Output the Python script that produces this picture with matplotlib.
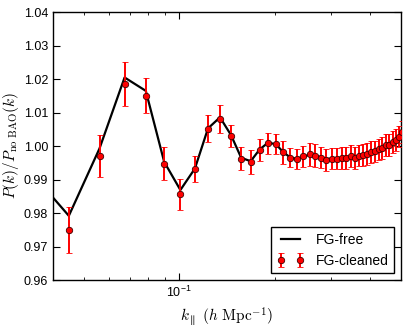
import matplotlib
matplotlib.use("Agg")
import matplotlib.pyplot as plt

plt.rcParams['font.family'] = ['Liberation Sans', 'DejaVu Sans']
plt.rcParams['mathtext.fontset'] = 'cm'

k = [0.0337, 0.0449, 0.0561, 0.0673, 0.0785, 0.0897, 0.1009, 0.1121, 0.1233,
     0.1345, 0.1457, 0.1569, 0.1681, 0.1793, 0.1905, 0.2017, 0.2129, 0.2241,
     0.2353, 0.2465, 0.2577, 0.2689, 0.2801, 0.2913, 0.3025, 0.3137, 0.3249,
     0.3361, 0.3473, 0.3585, 0.3697, 0.3809, 0.3921, 0.4033, 0.4145, 0.4257,
     0.4369, 0.4481, 0.4593, 0.4705, 0.4817, 0.4929, 0.5041]

fg_free = [0.9928, 0.9792, 0.9993, 1.0205, 1.0165, 0.9953, 0.9869, 0.9933, 1.0053,
           1.0086, 1.0033, 0.9965, 0.9955, 0.9990, 1.0010, 1.0006, 0.9982, 0.9966,
           0.9962, 0.9969, 0.9974, 0.9972, 0.9967, 0.9961, 0.9963, 0.9964, 0.9965,
           0.9965, 0.9969, 0.9967, 0.9971, 0.9974, 0.9977, 0.9982, 0.9984, 0.9990,
           0.9995, 1.0002, 1.0005, 1.0012, 1.0018, 1.0028, 1.0042]

fg_cleaned = [0.9930, 0.9750, 0.9971, 1.0186, 1.0150, 0.9948, 0.9856, 0.9931, 1.0052,
              1.0081, 1.0031, 0.9963, 0.9952, 0.9988, 1.0008, 1.0005, 0.9981, 0.9966,
              0.9961, 0.9970, 0.9975, 0.9972, 0.9966, 0.9958, 0.9963, 0.9963, 0.9965,
              0.9964, 0.9971, 0.9965, 0.9972, 0.9974, 0.9977, 0.9983, 0.9984, 0.9990,
              0.9994, 1.0003, 1.0004, 1.0012, 1.0018, 1.0028, 1.0042]

fg_err = [0.0070, 0.0069, 0.0062, 0.0065, 0.0052, 0.0050, 0.0047, 0.0039, 0.0040,
          0.0041, 0.0033, 0.0033, 0.0035, 0.0033, 0.0032, 0.0030, 0.0033, 0.0028,
          0.0030, 0.0031, 0.0033, 0.0033, 0.0032, 0.0032, 0.0032, 0.0032, 0.0032,
          0.0032, 0.0033, 0.0032, 0.0032, 0.0032, 0.0032, 0.0032, 0.0032, 0.0032,
          0.0032, 0.0032, 0.0032, 0.0032, 0.0032, 0.0032, 0.0032]

fig = plt.figure(figsize=(4.07, 3.28), dpi=100)
ax = fig.add_axes([0.130, 0.146, 0.855, 0.817])

ax.plot(k, fg_free, color='black', lw=1.6, label='FG-free', zorder=2)
ax.errorbar(k, fg_cleaned, yerr=fg_err, fmt='o', color='red', ecolor='red',
            mfc='red', mec='#400000', mew=0.6, ms=4.6, elinewidth=1.4,
            capsize=2.5, capthick=1.0, label='FG-cleaned', zorder=3)

ax.set_xscale('log')
ax.set_xlim(0.04, 0.5)
ax.set_ylim(0.96, 1.04)
ax.set_yticks([0.96, 0.97, 0.98, 0.99, 1.00, 1.01, 1.02, 1.03, 1.04])
ax.set_yticklabels(['0.96', '0.97', '0.98', '0.99', '1.00', '1.01', '1.02', '1.03', '1.04'])

ax.tick_params(which='both', direction='in', top=True, right=True, labelsize=9)
ax.tick_params(which='major', length=5)
ax.tick_params(which='minor', length=2.5)
for s in ax.spines.values():
    s.set_linewidth(1.0)

ax.set_xlabel(r'$k_\parallel\ (h\ {\rm Mpc}^{-1})$', fontsize=11)
ax.set_ylabel(r'$P(k)/P_{\rm no\ BAO}(k)$', fontsize=11, labelpad=2)

leg = ax.legend(loc='lower right', numpoints=2, fontsize=10, fancybox=False,
                framealpha=1, edgecolor='black', handlelength=2.0)
leg.get_frame().set_linewidth(1.0)

fig.savefig('out.png', dpi=100)
